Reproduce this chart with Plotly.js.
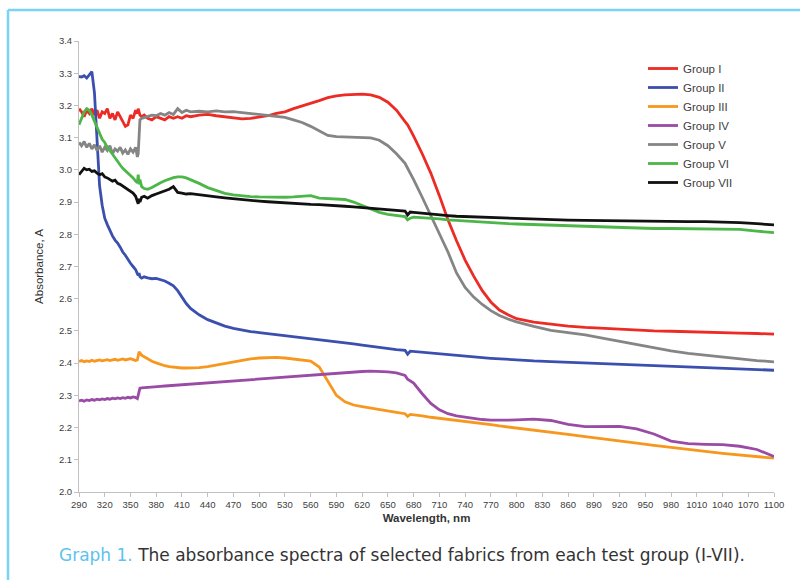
<!DOCTYPE html>
<html>
<head>
<meta charset="utf-8">
<script src="https://cdn.plot.ly/plotly-3.0.1.min.js"></script>
<style>html,body{margin:0;padding:0;background:#fff;}#chart{width:800px;height:580px;}</style>
</head>
<body>
<div id="chart"></div>
<script>
const wavelength = [290,293,296,299,302,305,308,311,314,317,320,323,326,329,332,335,338,341,344,347,350,353,356,358,359,360,361,363,366,370,
375,380,385,390,395,400,405,410,415,420,430,440,450,460,470,480,490,500,510,520,530,540,550,560,570,580,590,600,610,620,630,640,650,660,
670,673,676,680,690,700,710,720,730,740,750,760,770,780,790,800,820,840,860,880,900,920,940,960,980,1000,1020,1040,1060,1080,1100];

const groupNames = ["Group I","Group II","Group III","Group IV","Group V","Group VI","Group VII"];
const groupColors = ["#ec2b25","#3b4fae","#f7971e","#9a4ba5","#858585","#4cb648","#111111"];

const groupI = [3.19,3.18,3.165,3.185,3.175,3.19,3.17,3.185,3.16,3.18,3.175,3.19,3.16,3.175,3.155,3.18,3.165,3.15,3.135,3.14,3.17,3.16,3.185,3.175,3.19,3.18,3.17,3.165,3.17,3.16,
3.155,3.165,3.16,3.155,3.165,3.16,3.165,3.16,3.168,3.165,3.17,3.172,3.168,3.165,3.16,3.158,3.16,3.163,3.168,3.175,3.18,3.19,3.198,3.205,3.215,3.224,3.23,3.233,3.235,3.235,3.233,3.225,3.21,3.185,
3.15,3.14,3.125,3.105,3.05,2.99,2.92,2.845,2.78,2.72,2.67,2.625,2.59,2.565,2.55,2.538,2.527,2.52,2.515,2.511,2.508,2.506,2.503,2.5,2.499,2.497,2.496,2.494,2.493,2.492,2.49];

const groupII = [3.29,3.288,3.292,3.285,3.295,3.305,3.24,3.08,2.95,2.89,2.85,2.83,2.81,2.795,2.782,2.773,2.76,2.745,2.735,2.72,2.71,2.7,2.69,2.678,2.672,2.68,2.668,2.664,2.668,2.665,
2.662,2.663,2.66,2.655,2.648,2.64,2.625,2.605,2.585,2.57,2.55,2.535,2.524,2.515,2.508,2.502,2.498,2.495,2.492,2.489,2.485,2.482,2.478,2.475,2.472,2.469,2.466,2.463,2.46,2.456,2.452,2.448,2.445,2.442,
2.44,2.428,2.437,2.436,2.434,2.431,2.428,2.426,2.423,2.421,2.419,2.417,2.415,2.413,2.411,2.41,2.407,2.405,2.403,2.401,2.399,2.397,2.395,2.393,2.391,2.389,2.387,2.385,2.383,2.381,2.378];

const groupIII = [2.405,2.408,2.404,2.407,2.405,2.409,2.406,2.408,2.41,2.407,2.409,2.411,2.408,2.41,2.412,2.409,2.411,2.413,2.41,2.412,2.414,2.411,2.408,2.41,2.42,2.435,2.432,2.425,2.42,2.413,
2.406,2.401,2.396,2.392,2.389,2.387,2.386,2.385,2.385,2.385,2.386,2.389,2.394,2.399,2.404,2.409,2.413,2.416,2.418,2.418,2.416,2.413,2.411,2.406,2.388,2.342,2.3,2.28,2.27,2.265,2.26,2.255,2.251,2.247,
2.243,2.235,2.241,2.24,2.236,2.232,2.229,2.225,2.222,2.218,2.215,2.212,2.209,2.205,2.202,2.199,2.193,2.186,2.179,2.172,2.166,2.159,2.152,2.145,2.138,2.132,2.126,2.12,2.115,2.11,2.105];

const groupIV = [2.283,2.285,2.282,2.286,2.284,2.287,2.285,2.288,2.286,2.289,2.287,2.29,2.288,2.291,2.289,2.292,2.29,2.293,2.291,2.294,2.292,2.295,2.293,2.29,2.3,2.318,2.322,2.323,2.324,2.325,
2.326,2.327,2.328,2.329,2.33,2.331,2.332,2.333,2.334,2.335,2.337,2.339,2.341,2.343,2.345,2.347,2.349,2.351,2.353,2.355,2.357,2.359,2.361,2.363,2.366,2.368,2.37,2.372,2.373,2.374,2.375,2.375,2.373,2.37,
2.362,2.35,2.345,2.338,2.305,2.275,2.255,2.243,2.236,2.232,2.228,2.225,2.223,2.222,2.223,2.224,2.226,2.222,2.21,2.203,2.203,2.204,2.196,2.18,2.158,2.15,2.148,2.147,2.142,2.132,2.11];

const groupV = [3.085,3.075,3.088,3.07,3.082,3.065,3.078,3.06,3.075,3.055,3.07,3.06,3.075,3.05,3.065,3.058,3.07,3.052,3.062,3.048,3.065,3.055,3.07,3.04,3.05,3.1,3.155,3.16,3.162,3.165,
3.17,3.168,3.175,3.17,3.178,3.172,3.19,3.178,3.185,3.18,3.182,3.18,3.183,3.18,3.181,3.178,3.175,3.173,3.17,3.167,3.163,3.155,3.147,3.135,3.12,3.107,3.103,3.102,3.101,3.1,3.099,3.092,3.075,3.05,
3.02,3.005,2.99,2.97,2.915,2.86,2.805,2.745,2.68,2.635,2.605,2.582,2.563,2.548,2.537,2.528,2.514,2.502,2.495,2.488,2.478,2.468,2.458,2.447,2.438,2.43,2.424,2.418,2.413,2.408,2.404];

const groupVI = [3.14,3.16,3.18,3.19,3.185,3.17,3.15,3.13,3.11,3.095,3.085,3.07,3.06,3.048,3.035,3.025,3.015,3.005,2.998,2.99,2.982,2.975,2.965,2.96,2.985,2.955,2.97,2.948,2.942,2.94,
2.945,2.953,2.96,2.966,2.972,2.976,2.978,2.978,2.975,2.97,2.958,2.945,2.935,2.927,2.922,2.919,2.917,2.916,2.915,2.915,2.915,2.916,2.918,2.92,2.912,2.91,2.91,2.908,2.9,2.89,2.878,2.868,2.862,2.858,
2.855,2.845,2.85,2.853,2.852,2.85,2.848,2.845,2.843,2.841,2.839,2.837,2.835,2.834,2.833,2.832,2.83,2.828,2.826,2.824,2.822,2.82,2.819,2.818,2.818,2.817,2.817,2.817,2.815,2.81,2.805];

const groupVII = [2.985,2.995,3.005,3.0,3.002,2.995,2.997,2.99,2.985,2.988,2.978,2.975,2.97,2.965,2.968,2.958,2.955,2.95,2.945,2.94,2.935,2.928,2.918,2.905,2.895,2.91,2.9,2.915,2.918,2.912,
2.92,2.925,2.93,2.935,2.94,2.948,2.93,2.928,2.925,2.926,2.922,2.92,2.916,2.913,2.91,2.908,2.905,2.903,2.901,2.899,2.897,2.895,2.894,2.893,2.892,2.891,2.889,2.887,2.885,2.883,2.881,2.879,2.877,2.875,
2.872,2.86,2.869,2.868,2.865,2.862,2.86,2.858,2.856,2.855,2.854,2.852,2.851,2.85,2.849,2.848,2.846,2.845,2.844,2.843,2.842,2.841,2.841,2.84,2.84,2.839,2.839,2.838,2.836,2.833,2.829];

const seriesValues = [groupI, groupII, groupIII, groupIV, groupV, groupVI, groupVII];

const captionLabel = "Graph 1.";
const captionText = " The absorbance spectra of selected fabrics from each test group (I-VII).";

const tickFont = {family: "'Liberation Sans Narrow', 'Arial Narrow', 'Liberation Sans', sans-serif", size: 9.5, color: "#404040"};

const traces = seriesValues.map((vals, i) => ({
  type: "scatter", mode: "lines", name: groupNames[i],
  x: wavelength, y: vals,
  line: {color: groupColors[i], width: 2.8}
}));

const W = 800, H = 580, L = 79, R = 26, T = 41, B = 88;
const pw = W - L - R, ph = H - T - B;
const px = v => (v - L) / pw;
const py = v => (H - B - v) / ph;

const layout = {
  width: W, height: H,
  margin: {l: L, r: R, t: T, b: B, pad: 0},
  paper_bgcolor: "#ffffff", plot_bgcolor: "#ffffff",
  showlegend: true,
  legend: {
    x: px(643), y: py(54), xanchor: "left", yanchor: "top",
    bgcolor: "rgba(0,0,0,0)", borderwidth: 0,
    font: {family: "'Liberation Sans Narrow', 'Arial Narrow', 'Liberation Sans', sans-serif", size: 11.5, color: "#404040"},
    tracegroupgap: 0
  },
  xaxis: {
    range: [290, 1100], tick0: 290, dtick: 30, tickmode: "linear",
    showgrid: false, zeroline: false,
    showline: true, linecolor: "#c0c0c0", linewidth: 1,
    ticks: "outside", ticklen: 4, tickcolor: "#c0c0c0",
    tickfont: tickFont,
    title: {text: "<b>Wavelength, nm</b>", font: {family: "'Liberation Sans', Arial, sans-serif", size: 11.5, color: "#333333"}, standoff: 4}
  },
  yaxis: {
    range: [2.0, 3.4], tick0: 2.0, dtick: 0.1, tickmode: "linear", tickformat: ".1f",
    showgrid: false, zeroline: false,
    showline: true, linecolor: "#c0c0c0", linewidth: 1,
    ticks: "outside", ticklen: 4, tickcolor: "#c0c0c0",
    tickfont: tickFont,
    title: {text: "Absorbance, A", font: {family: "'Liberation Sans', Arial, sans-serif", size: 11.5, color: "#333333"}, standoff: 12}
  },
  shapes: [
    {type: "line", xref: "paper", yref: "paper", x0: px(8), x1: px(800), y0: py(10), y1: py(10), line: {color: "#7cd2f4", width: 2.5}},
    {type: "line", xref: "paper", yref: "paper", x0: px(8), x1: px(8), y0: py(10), y1: py(580), line: {color: "#7cd2f4", width: 2.5}}
  ],
  annotations: [
    {xref: "paper", yref: "paper", x: px(57), y: py(555), xanchor: "left", yanchor: "middle", showarrow: false,
     text: '<span style="color:#5cc3ee">' + captionLabel + '</span>' + captionText,
     font: {family: "'DejaVu Sans', 'Noto Sans', sans-serif", size: 17, color: "#333333"}}
  ]
};

Plotly.newPlot("chart", traces, layout, {staticPlot: true, displayModeBar: false});
</script>
</body>
</html>
